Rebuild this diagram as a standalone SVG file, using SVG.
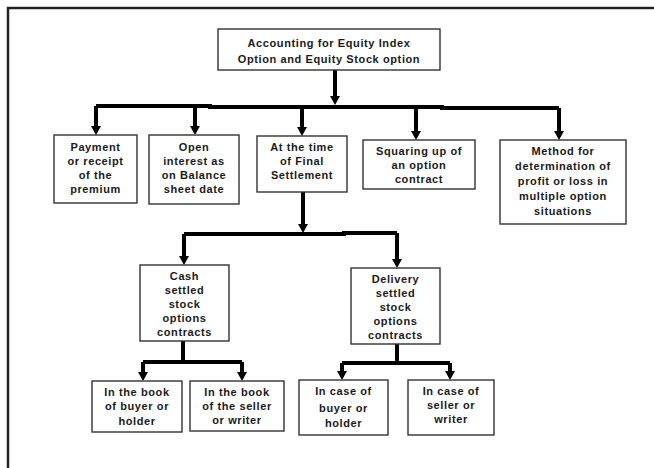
<svg xmlns="http://www.w3.org/2000/svg" width="654" height="468" viewBox="0 0 654 468">
<defs>
<marker id="ah" markerUnits="userSpaceOnUse" markerWidth="12" markerHeight="10" refX="5" refY="9" orient="auto-start-reverse" viewBox="0 0 10 10">
<path d="M0,0 L10,0 L5,9 Z" fill="#000"/>
</marker>
<style>
.box{fill:#fff;stroke:#333;stroke-width:1.4}
.t{font-family:"Liberation Sans",Arial,sans-serif;font-size:11px;font-weight:bold;fill:#1a1a1a;text-anchor:middle;letter-spacing:0.6px}
.c{fill:none;stroke:#000;stroke-width:4}
.frame{fill:none;stroke:#222;stroke-width:2.5}
</style>
</defs>
<rect width="654" height="468" fill="#fff"/>
<path class="frame" d="M8,468 L8,8 L654,8"/>
<g id="connectors">
<line class="c" x1="335" y1="70" x2="335" y2="96"/>
<path d="M330,96 L340,96 L335,105 Z" fill="#000"/>
<path class="c" d="M96,106 L210,106 L210,107 L442,107 L442,108 L559,108"/>
<line class="c" x1="96" y1="106" x2="96" y2="126"/>
<path d="M91,126 L101,126 L96,135 Z" fill="#000"/>
<line class="c" x1="195" y1="107" x2="195" y2="126"/>
<path d="M190,126 L200,126 L195,135 Z" fill="#000"/>
<line class="c" x1="302" y1="107" x2="302" y2="127"/>
<path d="M297,127 L307,127 L302,136 Z" fill="#000"/>
<line class="c" x1="416" y1="107" x2="416" y2="131"/>
<path d="M411,131 L421,131 L416,140 Z" fill="#000"/>
<line class="c" x1="559" y1="108" x2="559" y2="131"/>
<path d="M554,131 L564,131 L559,140 Z" fill="#000"/>
<line class="c" x1="303" y1="192" x2="303" y2="224"/>
<path d="M298,224 L308,224 L303,233 Z" fill="#000"/>
<path class="c" d="M184,234 L344,234 L344,233 L397,233"/>
<line class="c" x1="184" y1="234" x2="184" y2="256"/>
<path d="M179,256 L189,256 L184,265 Z" fill="#000"/>
<line class="c" x1="397" y1="233" x2="397" y2="259"/>
<path d="M392,259 L402,259 L397,268 Z" fill="#000"/>
<line class="c" x1="183" y1="341" x2="183" y2="362"/>
<path class="c" d="M143,362 L242,362"/>
<line class="c" x1="143" y1="362" x2="143" y2="372"/>
<path d="M138,372 L148,372 L143,381 Z" fill="#000"/>
<line class="c" x1="242" y1="362" x2="242" y2="372"/>
<path d="M237,372 L247,372 L242,381 Z" fill="#000"/>
<line class="c" x1="397" y1="344" x2="397" y2="363"/>
<path class="c" d="M342,363 L450,363"/>
<line class="c" x1="342" y1="363" x2="342" y2="371"/>
<path d="M337,371 L347,371 L342,380 Z" fill="#000"/>
<line class="c" x1="450" y1="363" x2="450" y2="371"/>
<path d="M445,371 L455,371 L450,380 Z" fill="#000"/>
</g>
<g id="root">
<rect class="box" x="218" y="29" width="222" height="41"/>
<text class="t" x="329" y="47">Accounting for Equity Index</text>
<text class="t" x="329" y="63">Option and Equity Stock option</text>
</g>
<g id="payment">
<rect class="box" x="54" y="135" width="83" height="68"/>
<text class="t" x="95.5" y="151">Payment</text>
<text class="t" x="95.5" y="165">or receipt</text>
<text class="t" x="95.5" y="179">of the</text>
<text class="t" x="95.5" y="193">premium</text>
</g>
<g id="open">
<rect class="box" x="149" y="135" width="90" height="69"/>
<text class="t" x="194" y="151">Open</text>
<text class="t" x="194" y="165">interest as</text>
<text class="t" x="194" y="179">on Balance</text>
<text class="t" x="194" y="193">sheet date</text>
</g>
<g id="final">
<rect class="box" x="257" y="136" width="90" height="56"/>
<text class="t" x="302" y="151">At the time</text>
<text class="t" x="302" y="165">of Final</text>
<text class="t" x="302" y="179">Settlement</text>
</g>
<g id="squaring">
<rect class="box" x="363" y="140" width="112" height="49"/>
<text class="t" x="419" y="155">Squaring up of</text>
<text class="t" x="419" y="169">an option</text>
<text class="t" x="419" y="183">contract</text>
</g>
<g id="method">
<rect class="box" x="500" y="140" width="126" height="84"/>
<text class="t" x="563" y="155">Method for</text>
<text class="t" x="563" y="170">determination of</text>
<text class="t" x="563" y="185">profit or loss in</text>
<text class="t" x="563" y="200">multiple option</text>
<text class="t" x="563" y="215">situations</text>
</g>
<g id="cash">
<rect class="box" x="140" y="265" width="89" height="76"/>
<text class="t" x="184.5" y="280">Cash</text>
<text class="t" x="184.5" y="294">settled</text>
<text class="t" x="184.5" y="308">stock</text>
<text class="t" x="184.5" y="322">options</text>
<text class="t" x="184.5" y="336">contracts</text>
</g>
<g id="delivery">
<rect class="box" x="351" y="268" width="89" height="76"/>
<text class="t" x="395.5" y="283">Delivery</text>
<text class="t" x="395.5" y="297">settled</text>
<text class="t" x="395.5" y="311">stock</text>
<text class="t" x="395.5" y="325">options</text>
<text class="t" x="395.5" y="339">contracts</text>
</g>
<g id="buyer-book">
<rect class="box" x="92" y="381" width="90" height="51"/>
<text class="t" x="137" y="396">In the book</text>
<text class="t" x="137" y="410">of buyer or</text>
<text class="t" x="137" y="425">holder</text>
</g>
<g id="seller-book">
<rect class="box" x="190" y="381" width="94" height="50"/>
<text class="t" x="237" y="396">In the book</text>
<text class="t" x="237" y="410">of the seller</text>
<text class="t" x="237" y="424">or writer</text>
</g>
<g id="buyer-case">
<rect class="box" x="299" y="380" width="89" height="55"/>
<text class="t" x="343.5" y="395">In case of</text>
<text class="t" x="343.5" y="412">buyer or</text>
<text class="t" x="343.5" y="427">holder</text>
</g>
<g id="seller-case">
<rect class="box" x="408" y="380" width="86" height="55"/>
<text class="t" x="451" y="395">In case of</text>
<text class="t" x="451" y="409">seller or</text>
<text class="t" x="451" y="423">writer</text>
</g>
</svg>
